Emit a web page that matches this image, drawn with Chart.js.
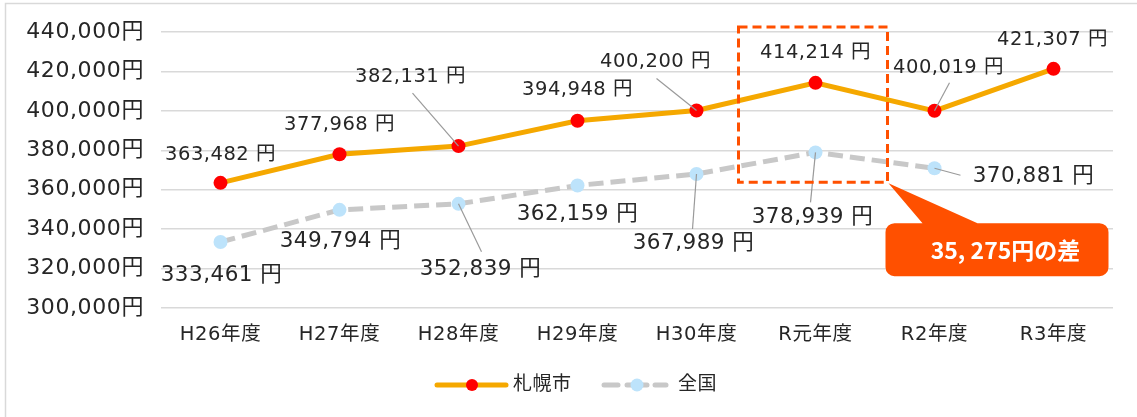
<!DOCTYPE html>
<html><head><meta charset="utf-8">
<script src="https://cdn.jsdelivr.net/npm/chart.js@4.4.1/dist/chart.umd.min.js"></script>
<style>html,body{margin:0;padding:0;background:#fff;overflow:hidden}#wrap{width:1137px;height:417px;position:relative}</style>
</head><body><div id="wrap"><canvas id="c" width="1137" height="417"></canvas></div>
<script>
const categories = ['H26年度','H27年度','H28年度','H29年度','H30年度','R元年度','R2年度','R3年度'];
const sapporoValues = [363482,377968,382131,394948,400200,414214,400019,421307];
const zenkokuValues = [333461,349794,352839,362159,367989,378939,370881,null];
const seriesNames = ['札幌市','全国'];
const yMin = 300000, yMax = 440000, yStep = 20000;
const highlightIndex = 5;

// label placement (offset of label centre from its point) and leader starts
const sapporoLabelPos = [[0,-28],[0,-29],[-48,-69],[0,-31],[-41,-49],[0,-30],[14,-43],[-1,-29]];
const sapporoLeaders  = [null,null,[-46,-53],null,[-40,-32],null,[15,-28],null];
const zenkokuLabelPos = [[1,33],[1,32],[22,66],[0,29],[-3,69],[-3,65],[99,8],null];
const zenkokuLeaders  = [null,null,[23,48],null,[-4,55],[-5,50],[26,7],null];

const FONT = '"DejaVu Sans","Noto Sans CJK JP",sans-serif';
const TEXT = '#262626';
const ORANGE = '#FF5000';

function fmt(v){ return v.toLocaleString('en-US'); }

const decorPlugin = {
  id:'decor',
  beforeDraw(chart){
    const ctx = chart.ctx;
    ctx.letterSpacing = '0.6px';
    ctx.save();
    ctx.strokeStyle = '#d9d9d9'; ctx.lineWidth = 1.5;
    ctx.strokeRect(5.5, 3.5, 1160, 430);
    ctx.restore();
  },
  afterDatasetsDraw(chart){
    const ctx = chart.ctx;
    const sets = [
      {meta: chart.getDatasetMeta(0), vals: sapporoValues, pos: sapporoLabelPos, lead: sapporoLeaders, font: '19.5px '+FONT, ls:'0.5px'},
      {meta: chart.getDatasetMeta(1), vals: zenkokuValues, pos: zenkokuLabelPos, lead: zenkokuLeaders, font: '21.5px '+FONT, ls:'0.5px'}
    ];
    ctx.save();
    sets.forEach(s=>{
      s.meta.data.forEach((pt,i)=>{
        if (s.vals[i]==null || !s.pos[i]) return;
        const x = pt.x, y = pt.y;
        if (s.lead[i]) {
          ctx.beginPath(); ctx.strokeStyle = '#9a9a9a'; ctx.lineWidth = 1.2;
          ctx.moveTo(x + s.lead[i][0], y + s.lead[i][1]); ctx.lineTo(x, y); ctx.stroke();
        }
        ctx.font = s.font; ctx.letterSpacing = s.ls;
        ctx.fillStyle = TEXT; ctx.textAlign = 'center'; ctx.textBaseline = 'middle';
        ctx.fillText(fmt(s.vals[i]) + ' 円', x + s.pos[i][0], y + s.pos[i][1]);
      });
    });
    ctx.restore();
  },
  afterDraw(chart){
    const ctx = chart.ctx;
    const xs = chart.scales.x, ys = chart.scales.y;
    const cx = xs.getPixelForValue(highlightIndex);
    // dashed highlight rectangle
    const rL = cx - 77, rR = cx + 72, rT = ys.getPixelForValue(yMax) - 5, rB = ys.getPixelForValue(363800);
    ctx.save();
    ctx.letterSpacing = '0px';
    ctx.strokeStyle = ORANGE; ctx.lineWidth = 3; ctx.setLineDash([9,5]);
    ctx.strokeRect(rL, rT, rR - rL, rB - rT);
    ctx.setLineDash([]);
    // callout
    const bL = cx + 70, bR = cx + 293, bT = rB + 41, bB = rB + 94, r = 9;
    ctx.fillStyle = ORANGE;
    ctx.beginPath();
    ctx.moveTo(bL + r, bT);
    ctx.lineTo(cx + 107, bT);
    ctx.lineTo(rR + 1, rB + 1);
    ctx.lineTo(cx + 162, bT);
    ctx.lineTo(bR - r, bT);
    ctx.arcTo(bR, bT, bR, bT + r, r);
    ctx.lineTo(bR, bB - r);
    ctx.arcTo(bR, bB, bR - r, bB, r);
    ctx.lineTo(bL + r, bB);
    ctx.arcTo(bL, bB, bL, bB - r, r);
    ctx.lineTo(bL, bT + r);
    ctx.arcTo(bL, bT, bL + r, bT, r);
    ctx.closePath(); ctx.fill();
    const diff = sapporoValues[highlightIndex] - zenkokuValues[highlightIndex];
    const diffStr = fmt(diff).replace(',', ', ') + '円の差';
    ctx.fillStyle = '#fff';
    ctx.font = 'bold 23px "Liberation Sans Narrow","Noto Sans CJK JP",sans-serif';
    ctx.textAlign = 'center'; ctx.textBaseline = 'middle';
    ctx.fillText(diffStr, cx + 190, (bT + bB) / 2 + 1);
    // legend
    const ly = 385;
    ctx.lineCap = 'round';
    ctx.strokeStyle = '#F5A800'; ctx.lineWidth = 5;
    ctx.beginPath(); ctx.moveTo(437, ly); ctx.lineTo(506, ly); ctx.stroke();
    ctx.fillStyle = '#FF0000'; ctx.beginPath(); ctx.arc(472, ly, 6, 0, Math.PI*2); ctx.fill();
    ctx.strokeStyle = '#C8C8C8'; ctx.lineCap = 'round';
    ctx.beginPath(); ctx.moveTo(604, ly); ctx.lineTo(618, ly); ctx.stroke();
    ctx.beginPath(); ctx.moveTo(627, ly); ctx.lineTo(647, ly); ctx.stroke();
    ctx.beginPath(); ctx.moveTo(655, ly); ctx.lineTo(666, ly); ctx.stroke();
    ctx.fillStyle = '#BDE3FB'; ctx.beginPath(); ctx.arc(637, ly, 6.5, 0, Math.PI*2); ctx.fill();
    ctx.fillStyle = TEXT; ctx.font = '19px ' + FONT; ctx.textAlign = 'left'; ctx.textBaseline = 'middle';
    ctx.letterSpacing = '0.5px';
    ctx.fillText(seriesNames[0], 513, ly);
    ctx.fillText(seriesNames[1], 678, ly);
    ctx.restore();
  }
};

new Chart(document.getElementById('c'), {
  type: 'line',
  data: {
    labels: categories,
    datasets: [
      { label: seriesNames[0], data: sapporoValues, borderColor: '#F5A800', borderWidth: 5,
        pointBackgroundColor: '#FF0000', pointBorderColor: '#FF0000', pointRadius: 7, pointBorderWidth: 0,
        tension: 0, fill: false },
      { label: seriesNames[1], data: zenkokuValues, borderColor: '#C8C8C8', borderWidth: 5, borderDash: [15,7],
        pointBackgroundColor: '#BDE3FB', pointBorderColor: '#BDE3FB', pointRadius: 7, pointBorderWidth: 0,
        tension: 0, fill: false, spanGaps: false }
    ]
  },
  options: {
    responsive: false, animation: false, devicePixelRatio: 1,
    layout: { padding: { left: 5, right: 24, top: 32, bottom: 69 } },
    plugins: { legend: { display: false }, tooltip: { enabled: false } },
    scales: {
      x: {
        offset: true,
        grid: { display: false, drawTicks: false, offset: true }, border: { display: false },
        ticks: { color: TEXT, font: { size: 19.5, family: FONT }, padding: 15, maxRotation: 0, autoSkip: false },
        afterFit(s){ s.height = 40; }
      },
      y: {
        min: yMin, max: yMax,
        grid: { color: '#d9d9d9', lineWidth: 1.5, drawTicks: false }, border: { display: false },
        ticks: { stepSize: yStep, color: TEXT, font: { size: 22, family: FONT }, padding: 17,
          callback: v => fmt(v) + '円' },
        afterFit(s){ s.width = 156; }
      }
    }
  },
  plugins: [decorPlugin]
});
</script>
</body></html>
